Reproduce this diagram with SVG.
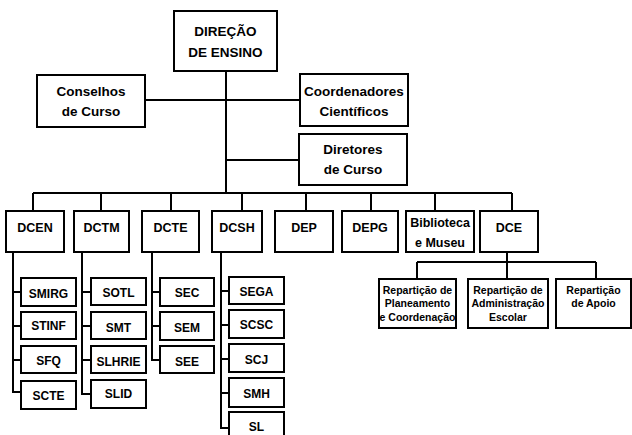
<svg xmlns="http://www.w3.org/2000/svg" width="632" height="435" viewBox="0 0 632 435">
<style>
rect{fill:#fff;stroke:#000;stroke-width:2}
text{font-family:"Liberation Sans",Arial,sans-serif;font-weight:bold;fill:#000;text-anchor:middle}
.t{font-size:13.5px}
.m{font-size:12.5px}
.s{font-size:12px}
.r{font-size:10.5px}
#conn path{fill:none;stroke:#000;stroke-width:2}
</style>
<rect x="0" y="0" width="632" height="435" style="fill:#fff;stroke:none"/>
<g id="conn">
<path d="M226 71V193M145 100H300M226 160H299M33 193H512M33 193V211M101 193V211M171 193V211M242 193V211M306 193V211M371 193V211M435 193V211M512 193V211"/>
<path d="M507 252V262M417 262H596M417 262V279M507 262V279M596 262V279"/>
<path d="M13 252V392H21M13 292H21M13 326H21M13 360H21"/>
<path d="M82 252V394H91M82 292H91M82 326H91M82 360H91"/>
<path d="M152 252V360H160M152 292H160M152 326H160"/>
<path d="M221 252V428H229M221 291H229M221 325H229M221 359H229M221 393H229"/>
</g>
<g id="direcao"><rect x="174" y="11" width="103" height="60"/><text class="t" x="225.5" y="36">DIREÇÃO</text><text class="t" x="225.5" y="57">DE ENSINO</text></g>
<g id="conselhos"><rect x="37" y="75" width="108" height="52"/><text class="t" x="91" y="96">Conselhos</text><text class="t" x="91" y="116">de Curso</text></g>
<g id="coordenadores"><rect x="300" y="74" width="108" height="52"/><text class="t" x="354" y="96">Coordenadores</text><text class="t" x="354" y="116">Científicos</text></g>
<g id="diretores"><rect x="299" y="134" width="108" height="51"/><text class="t" x="353" y="154">Diretores</text><text class="t" x="353" y="174">de Curso</text></g>
<g id="dcen"><rect x="6" y="211" width="58" height="41"/><text class="m" x="35" y="232">DCEN</text></g>
<g id="dctm"><rect x="74" y="211" width="55" height="41"/><text class="m" x="101.5" y="232">DCTM</text></g>
<g id="dcte"><rect x="142" y="211" width="57" height="41"/><text class="m" x="170.5" y="232">DCTE</text></g>
<g id="dcsh"><rect x="212" y="211" width="50" height="41"/><text class="m" x="237" y="232">DCSH</text></g>
<g id="dep"><rect x="275" y="211" width="58" height="41"/><text class="m" x="304" y="232">DEP</text></g>
<g id="depg"><rect x="342" y="211" width="56" height="41"/><text class="m" x="370" y="232">DEPG</text></g>
<g id="biblioteca"><rect x="406" y="211" width="68" height="41"/><text class="m" x="440" y="227">Biblioteca</text><text class="m" x="440" y="247">e Museu</text></g>
<g id="dce"><rect x="480" y="211" width="58" height="41"/><text class="m" x="509" y="232">DCE</text></g>
<g id="smirg"><rect x="21" y="278" width="55" height="28"/><text class="s" x="48.5" y="298">SMIRG</text></g>
<g id="stinf"><rect x="21" y="312" width="55" height="27"/><text class="s" x="48.5" y="330">STINF</text></g>
<g id="sfq"><rect x="21" y="346" width="55" height="27"/><text class="s" x="48.5" y="365">SFQ</text></g>
<g id="scte"><rect x="21" y="381" width="55" height="28"/><text class="s" x="48.5" y="400">SCTE</text></g>
<g id="sotl"><rect x="91" y="278" width="55" height="27"/><text class="s" x="118.5" y="297">SOTL</text></g>
<g id="smt"><rect x="91" y="312" width="55" height="27"/><text class="s" x="118.5" y="332">SMT</text></g>
<g id="slhrie"><rect x="91" y="346" width="55" height="27"/><text class="s" x="118.5" y="366">SLHRIE</text></g>
<g id="slid"><rect x="91" y="380" width="55" height="28"/><text class="s" x="118.5" y="398">SLID</text></g>
<g id="sec"><rect x="160" y="278" width="54" height="28"/><text class="s" x="187" y="297">SEC</text></g>
<g id="sem"><rect x="160" y="312" width="54" height="28"/><text class="s" x="187" y="332">SEM</text></g>
<g id="see"><rect x="160" y="346" width="54" height="27"/><text class="s" x="187" y="366">SEE</text></g>
<g id="sega"><rect x="229" y="277" width="55" height="27"/><text class="s" x="256.5" y="296">SEGA</text></g>
<g id="scsc"><rect x="229" y="310" width="55" height="28"/><text class="s" x="256.5" y="329">SCSC</text></g>
<g id="scj"><rect x="229" y="344" width="55" height="28"/><text class="s" x="256.5" y="364">SCJ</text></g>
<g id="smh"><rect x="229" y="378" width="55" height="29"/><text class="s" x="256.5" y="398">SMH</text></g>
<g id="sl"><rect x="229" y="412" width="55" height="30"/><text class="s" x="256.5" y="431">SL</text></g>
<g id="rep1"><rect x="379" y="279" width="77" height="49"/><text class="r" x="417.5" y="294">Repartição de</text><text class="r" x="417.5" y="307">Planeamento</text><text class="r" x="417.5" y="321">e Coordenação</text></g>
<g id="rep2"><rect x="468" y="279" width="80" height="49"/><text class="r" x="508" y="294">Repartição de</text><text class="r" x="508" y="307">Administração</text><text class="r" x="508" y="321">Escolar</text></g>
<g id="rep3"><rect x="556" y="279" width="75" height="49"/><text class="r" x="593.5" y="294">Repartição</text><text class="r" x="593.5" y="307">de Apoio</text></g>
</svg>
